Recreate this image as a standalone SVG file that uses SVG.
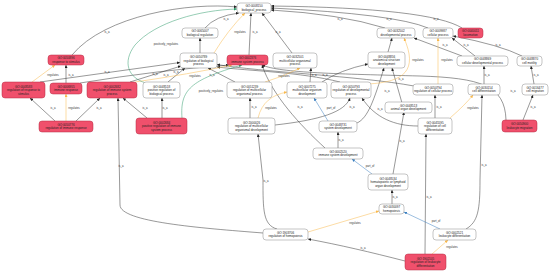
<svg xmlns="http://www.w3.org/2000/svg" width="550" height="272" viewBox="0 0 550 272">
<style>
.n rect{fill:#fff;stroke:#8a8a8a;stroke-width:0.5}
.n.hit rect{fill:#f0506c;stroke:#b52a43}
text{font-family:"Liberation Sans",Arial,sans-serif;font-size:3px;fill:#222;text-anchor:middle}
.e path{fill:none;stroke-width:0.5}
.ia{stroke:#333;marker-end:url(#ab)}
.rg{stroke:#f9b84a;marker-end:url(#ao)}
.pr{stroke:#2f9a6a;marker-end:url(#ag)}
.po{stroke:#3a7fc0;marker-end:url(#au)}
.lb{font-size:2.8px;fill:#333}
</style>
<defs>
<marker id="ab" markerUnits="userSpaceOnUse" markerWidth="3" markerHeight="3" refX="3" refY="1.5" orient="auto"><path d="M0,0L3,1.5L0,3z" fill="#222"/></marker>
<marker id="ao" markerUnits="userSpaceOnUse" markerWidth="3" markerHeight="3" refX="3" refY="1.5" orient="auto"><path d="M0,0L3,1.5L0,3z" fill="#f9b84a"/></marker>
<marker id="ag" markerUnits="userSpaceOnUse" markerWidth="3" markerHeight="3" refX="3" refY="1.5" orient="auto"><path d="M0,0L3,1.5L0,3z" fill="#2f9a6a"/></marker>
<marker id="au" markerUnits="userSpaceOnUse" markerWidth="3" markerHeight="3" refX="3" refY="1.5" orient="auto"><path d="M0,0L3,1.5L0,3z" fill="#3a7fc0"/></marker>
</defs>
<rect width="550" height="272" fill="#fff"/>
<g id="connectors" class="e">
<path class="ia" d="M205,28 Q215,16 239,13"/>
<path class="ia" d="M72,55 C105,15 190,2 237,7"/>
<path class="ia" d="M200,53 L200,38"/>
<path class="ia" d="M249,55 L251,13"/>
<path class="ia" d="M292,53 L262,13"/>
<path class="ia" d="M385,28 Q340,14 271,10"/>
<path class="ia" d="M428,28 Q395,14 271,8"/>
<path class="ia" d="M462,28 Q430,8 271,6"/>
<path class="ia" d="M66,83 L66,65"/>
<path class="ia" d="M40,82 L180,62.5"/>
<path class="ia" d="M130,82 L181,66"/>
<path class="ia" d="M168,82 L185,68"/>
<path class="ia" d="M80,83 Q160,70 229,65"/>
<path class="ia" d="M235,82 L208,68"/>
<path class="ia" d="M340,82 C300,72 250,71 217,67"/>
<path class="ia" d="M414,86 C360,76 260,72 217,64.5"/>
<path class="ia" d="M506,120 C505,85 480,78 420,76 C340,74 280,73 262,65"/>
<path class="ia" d="M325,148 C300,125 272,95 262,65"/>
<path class="ia" d="M250,118 L250,98"/>
<path class="ia" d="M275,125 C320,120 345,112 350,98"/>
<path class="ia" d="M310,82 L311,68"/>
<path class="ia" d="M322,82 Q340,70 368,64"/>
<path class="ia" d="M388,52 L392,38"/>
<path class="ia" d="M357,123 C368,118 374,100 384,68"/>
<path class="ia" d="M402,103 L392,68"/>
<path class="ia" d="M462,56 L414,38"/>
<path class="ia" d="M475,56 L452,38"/>
<path class="ia" d="M522,56 Q500,45 453,36"/>
<path class="ia" d="M484,84 L484,66"/>
<path class="ia" d="M534,84 L531,66"/>
<path class="ia" d="M523,120 L533,95"/>
<path class="ia" d="M435,118 L435,95"/>
<path class="ia" d="M418,126 C395,126 375,118 362,98"/>
<path class="ia" d="M338,148 L338,132"/>
<path class="ia" d="M393,174 L404,112"/>
<path class="ia" d="M392,204 L392,190"/>
<path class="ia" d="M277,229 C263,225 263,210 263,180 L258,134"/>
<path class="ia" d="M263,233 C200,228 120,222 120,205 L118,98"/>
<path class="ia" d="M466,229 C478,222 480,210 480,180 L482,95"/>
<path class="ia" d="M405,261 C370,252 340,245 308,239"/>
<path class="ia" d="M425,254 L426,134"/>
<path class="ia" d="M55,121 L30,98"/>
<path class="ia" d="M76,121 L100,98"/>
<path class="ia" d="M147,118 L123,98"/>
<path class="ia" d="M162,118 L162,98"/>
<path class="rg" d="M214,53 Q228,30 245,13"/>
<path class="rg" d="M32,82 L55,65"/>
<path class="rg" d="M66,121 L66,94"/>
<path class="rg" d="M135,82 Q190,74 232,65"/>
<path class="rg" d="M265,82 Q285,76 300,68"/>
<path class="rg" d="M258,118 C262,102 272,95 287,92"/>
<path class="rg" d="M368,84 C405,82 418,70 404,38"/>
<path class="rg" d="M438,84 L438,38"/>
<path class="rg" d="M450,118 Q465,105 473,95"/>
<path class="rg" d="M308,232 L379,211"/>
<path class="rg" d="M432,254 L448,240"/>
<path class="pr" d="M146,83 C128,78 122,62 135,45 C155,22 200,10 237,9"/>
<path class="pr" d="M182,118 C180,90 190,80 242,65"/>
<path class="po" d="M328,121 L314,98"/>
<path class="po" d="M372,174 L352,159"/>
<path class="po" d="M440,229 L404,212"/>
<text class="lb" x="226" y="20">is_a</text>
<text class="lb" x="107" y="33">is_a</text>
<text class="lb" x="255" y="33">is_a</text>
<text class="lb" x="278" y="33">is_a</text>
<text class="lb" x="340" y="20">is_a</text>
<text class="lb" x="389" y="20">is_a</text>
<text class="lb" x="436" y="20">is_a</text>
<text class="lb" x="71" y="76">is_a</text>
<text class="lb" x="107" y="73">is_a</text>
<text class="lb" x="155" y="75">is_a</text>
<text class="lb" x="166" y="76">is_a</text>
<text class="lb" x="176" y="73">is_a</text>
<text class="lb" x="212" y="76">is_a</text>
<text class="lb" x="513" y="92">is_a</text>
<text class="lb" x="300" y="108">is_a</text>
<text class="lb" x="254" y="108">is_a</text>
<text class="lb" x="352" y="108">is_a</text>
<text class="lb" x="314" y="76">is_a</text>
<text class="lb" x="325" y="76">is_a</text>
<text class="lb" x="387" y="92">is_a</text>
<text class="lb" x="401" y="80">is_a</text>
<text class="lb" x="445" y="46">is_a</text>
<text class="lb" x="466" y="46">is_a</text>
<text class="lb" x="498" y="46">is_a</text>
<text class="lb" x="487" y="76">is_a</text>
<text class="lb" x="536" y="76">is_a</text>
<text class="lb" x="533" y="108">is_a</text>
<text class="lb" x="439" y="108">is_a</text>
<text class="lb" x="380" y="110">is_a</text>
<text class="lb" x="341" y="141">is_a</text>
<text class="lb" x="402" y="142">is_a</text>
<text class="lb" x="395" y="198">is_a</text>
<text class="lb" x="266" y="182">is_a</text>
<text class="lb" x="121" y="167">is_a</text>
<text class="lb" x="484" y="166">is_a</text>
<text class="lb" x="363" y="249">is_a</text>
<text class="lb" x="429" y="198">is_a</text>
<text class="lb" x="53" y="109">is_a</text>
<text class="lb" x="99" y="109">is_a</text>
<text class="lb" x="145" y="109">is_a</text>
<text class="lb" x="165" y="109">is_a</text>
<text class="lb" x="240" y="33">regulates</text>
<text class="lb" x="53" y="76">regulates</text>
<text class="lb" x="74" y="109">regulates</text>
<text class="lb" x="195" y="77">regulates</text>
<text class="lb" x="284" y="77">regulates</text>
<text class="lb" x="271" y="109">regulates</text>
<text class="lb" x="418" y="61">regulates</text>
<text class="lb" x="447" y="61">regulates</text>
<text class="lb" x="473" y="109">regulates</text>
<text class="lb" x="355" y="224">regulates</text>
<text class="lb" x="452" y="248">regulates</text>
<text class="lb" x="166" y="45">positively_regulates</text>
<text class="lb" x="211" y="92">positively_regulates</text>
<text class="lb" x="331" y="109">part_of</text>
<text class="lb" x="370" y="167">part_of</text>
<text class="lb" x="436" y="222">part_of</text>
</g>
<g id="GO0008150" class="n"><rect x="237" y="3" width="34" height="10" rx="3"/><text x="254" y="7.3">GO:0008150</text><text x="254" y="10.9">biological_process</text></g>
<g id="GO0065007" class="n"><rect x="182" y="28" width="36" height="10" rx="3"/><text x="200" y="32.3">GO:0065007</text><text x="200" y="35.9">biological regulation</text></g>
<g id="GO0050896" class="n hit"><rect x="48" y="55" width="36" height="10" rx="3"/><text x="66" y="59.3">GO:0050896</text><text x="66" y="62.9">response to stimulus</text></g>
<g id="GO0050789" class="n"><rect x="180" y="53" width="37" height="15" rx="3"/><text x="198.5" y="58">GO:0050789</text><text x="198.5" y="61.6">regulation of biological</text><text x="198.5" y="65.2">process</text></g>
<g id="GO0002376" class="n hit"><rect x="227" y="55" width="41" height="10" rx="3"/><text x="247.5" y="59.3">GO:0002376</text><text x="247.5" y="62.9">immune system process</text></g>
<g id="GO0032501" class="n"><rect x="273" y="53" width="44" height="15" rx="3"/><text x="295" y="58">GO:0032501</text><text x="295" y="61.6">multicellular organismal</text><text x="295" y="65.2">process</text></g>
<g id="GO0032502" class="n"><rect x="377" y="28" width="38" height="10" rx="3"/><text x="396" y="32.3">GO:0032502</text><text x="396" y="35.9">developmental process</text></g>
<g id="GO0009987" class="n"><rect x="423" y="28" width="30" height="10" rx="3"/><text x="438" y="32.3">GO:0009987</text><text x="438" y="35.9">cellular process</text></g>
<g id="GO0040011" class="n hit"><rect x="458" y="28" width="25" height="10" rx="3"/><text x="470.5" y="32.3">GO:0040011</text><text x="470.5" y="35.9">locomotion</text></g>
<g id="GO0048869" class="n"><rect x="457" y="56" width="51" height="10" rx="3"/><text x="482.5" y="60.3">GO:0048869</text><text x="482.5" y="63.9">cellular developmental process</text></g>
<g id="GO0048870" class="n"><rect x="517" y="56" width="25" height="10" rx="3"/><text x="529.5" y="60.3">GO:0048870</text><text x="529.5" y="63.9">cell motility</text></g>
<g id="GO0048856" class="n"><rect x="368" y="52" width="37" height="16" rx="3"/><text x="386.5" y="57.5">GO:0048856</text><text x="386.5" y="61.1">anatomical structure</text><text x="386.5" y="64.7">development</text></g>
<g id="GO0048583" class="n hit"><rect x="2" y="82" width="43" height="16" rx="3"/><text x="23.5" y="87.5">GO:0048583</text><text x="23.5" y="91.1">regulation of response to</text><text x="23.5" y="94.7">stimulus</text></g>
<g id="GO0006955" class="n hit"><rect x="50" y="83" width="32" height="11" rx="3"/><text x="66" y="87.8">GO:0006955</text><text x="66" y="91.4">immune response</text></g>
<g id="GO0002682" class="n hit"><rect x="87" y="82" width="50" height="16" rx="3"/><text x="112" y="87.5">GO:0002682</text><text x="112" y="91.1">regulation of immune system</text><text x="112" y="94.7">process</text></g>
<g id="GO0048518" class="n"><rect x="143" y="82" width="37" height="16" rx="3"/><text x="161.5" y="87.5">GO:0048518</text><text x="161.5" y="91.1">positive regulation of</text><text x="161.5" y="94.7">biological process</text></g>
<g id="GO0050776" class="n hit"><rect x="39" y="121" width="54" height="11" rx="3"/><text x="66" y="125.8">GO:0050776</text><text x="66" y="129.4">regulation of immune response</text></g>
<g id="GO0002684" class="n hit"><rect x="136" y="118" width="51" height="16" rx="3"/><text x="161.5" y="123.5">GO:0002684</text><text x="161.5" y="127.1">positive regulation of immune</text><text x="161.5" y="130.7">system process</text></g>
<g id="GO0051239" class="n"><rect x="227" y="82" width="45" height="16" rx="3"/><text x="249.5" y="87.5">GO:0051239</text><text x="249.5" y="91.1">regulation of multicellular</text><text x="249.5" y="94.7">organismal process</text></g>
<g id="GO0007275" class="n"><rect x="287" y="82" width="40" height="16" rx="3"/><text x="307" y="87.5">GO:0007275</text><text x="307" y="91.1">multicellular organism</text><text x="307" y="94.7">development</text></g>
<g id="GO0050793" class="n"><rect x="331" y="82" width="40" height="16" rx="3"/><text x="351" y="87.5">GO:0050793</text><text x="351" y="91.1">regulation of developmental</text><text x="351" y="94.7">process</text></g>
<g id="GO0050794" class="n"><rect x="413" y="84" width="40" height="11" rx="3"/><text x="433" y="88.8">GO:0050794</text><text x="433" y="92.4">regulation of cellular process</text></g>
<g id="GO0030154" class="n"><rect x="468" y="84" width="32" height="11" rx="3"/><text x="484" y="88.8">GO:0030154</text><text x="484" y="92.4">cell differentiation</text></g>
<g id="GO0016477" class="n"><rect x="522" y="84" width="26" height="11" rx="3"/><text x="535" y="88.8">GO:0016477</text><text x="535" y="92.4">cell migration</text></g>
<g id="GO0048731" class="n"><rect x="319" y="121" width="38" height="11" rx="3"/><text x="338" y="125.8">GO:0048731</text><text x="338" y="129.4">system development</text></g>
<g id="GO2000026" class="n"><rect x="228" y="118" width="47" height="16" rx="3"/><text x="251.5" y="123.5">GO:2000026</text><text x="251.5" y="127.1">regulation of multicellular</text><text x="251.5" y="130.7">organismal development</text></g>
<g id="GO0048513" class="n"><rect x="385" y="102" width="47" height="11" rx="3"/><text x="408.5" y="106.8">GO:0048513</text><text x="408.5" y="110.4">animal organ development</text></g>
<g id="GO0045595" class="n"><rect x="418" y="118" width="34" height="16" rx="3"/><text x="435" y="123.5">GO:0045595</text><text x="435" y="127.1">regulation of cell</text><text x="435" y="130.7">differentiation</text></g>
<g id="GO0002520" class="n"><rect x="313" y="148" width="50" height="11" rx="3"/><text x="338" y="152.8">GO:0002520</text><text x="338" y="156.4">immune system development</text></g>
<g id="GO0050900" class="n hit"><rect x="502" y="120" width="35" height="12" rx="3"/><text x="519.5" y="125.3">GO:0050900</text><text x="519.5" y="128.9">leukocyte migration</text></g>
<g id="GO0048534" class="n"><rect x="368" y="174" width="40" height="16" rx="3"/><text x="388" y="179.5">GO:0048534</text><text x="388" y="183.1">hematopoietic or lymphoid</text><text x="388" y="186.7">organ development</text></g>
<g id="GO0030097" class="n"><rect x="379" y="204" width="25" height="10" rx="3"/><text x="391.5" y="208.3">GO:0030097</text><text x="391.5" y="211.9">hemopoiesis</text></g>
<g id="GO1903706" class="n"><rect x="263" y="229" width="45" height="11" rx="3"/><text x="285.5" y="233.8">GO:1903706</text><text x="285.5" y="237.4">regulation of hemopoiesis</text></g>
<g id="GO0002521" class="n"><rect x="433" y="229" width="43" height="11" rx="3"/><text x="454.5" y="233.8">GO:0002521</text><text x="454.5" y="237.4">leukocyte differentiation</text></g>
<g id="GO1902105" class="n hit"><rect x="405" y="254" width="41" height="16" rx="3"/><text x="425.5" y="259.5">GO:1902105</text><text x="425.5" y="263.1">regulation of leukocyte</text><text x="425.5" y="266.7">differentiation</text></g>
</svg>
